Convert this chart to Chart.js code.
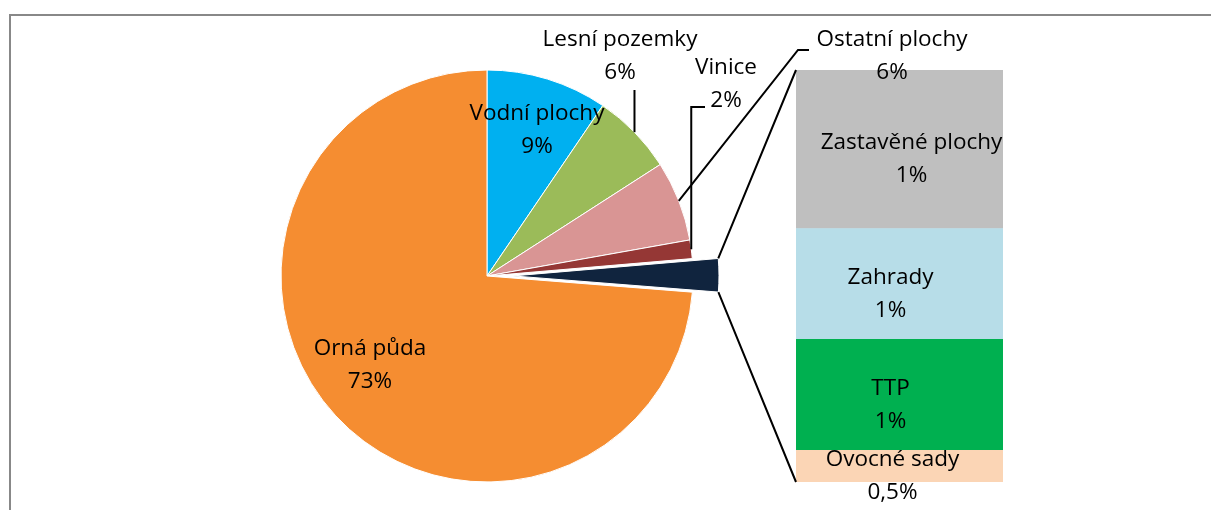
<!DOCTYPE html>
<html>
<head>
<meta charset="utf-8">
<script src="https://cdn.jsdelivr.net/npm/chart.js@4.4.1/dist/chart.umd.min.js"></script>
<style>
  html, body { margin: 0; padding: 0; background: #fff; overflow: hidden; }
  #wrap { position: relative; width: 1211px; height: 510px; overflow: hidden; }
  #frame { position: absolute; left: 9px; top: 14px; width: 1400px; height: 700px; border: 2px solid #888; }
  canvas { position: absolute; left: 0; top: 0; }
</style>
</head>
<body>
<div id="wrap">
  <div id="frame"></div>
  <canvas id="pie" width="1211" height="510"></canvas>
  <canvas id="bar" width="1211" height="510"></canvas>
</div>
<script>
// pie slices, clockwise from 12 o'clock (share of area, %)
const pieLabels = ['Vodní plochy', 'Lesní pozemky', 'Ostatní plochy', 'Vinice', 'Jiné', 'Orná půda'];
const pieValues = [9.5, 6.4, 6.3, 1.45, 2.6, 73.75];
const pieText   = ['9%', '6%', '6%', '2%', '', '73%'];
const pieColors = ['#00B0F0', '#9BBB59', '#D99594', '#953735', '#10243E', '#F58D31'];

// breakdown of the small slice, top to bottom
const barLabels = ['Zastavěné plochy', 'Zahrady', 'TTP', 'Ovocné sady'];
const barValues = [1.0, 0.7, 0.7, 0.2];
const barText   = ['1%', '1%', '1%', '0,5%'];
const barColors = ['#BFBFBF', '#B7DDE8', '#00B050', '#FBD5B5'];

const FONT = '22.5px "Open Sans", sans-serif';
const LINE_H = 33;
const EXPLODE = 26;
const SPLIT = 4; // index of the slice that is broken out into the bar

// where the label texts sit (centre of the two-line block) and leader elbows
const layout = {
    0: { text: [537, 130] },
    1: { text: [620, 56], elbow: 'up', top: 90 },
    2: { text: [892, 56], elbow: [[798, 50], [809, 50]] },
    3: { text: [726, 84], elbow: 'upright', top: 107, right: 705 },
    5: { text: [370, 365] }
};
// horizontal nudge of the bar labels from the bar centre, top to bottom
const barNudge = [12, -9, -9, -7];

function drawBlock(ctx, lines, cx, cy) {
    ctx.font = FONT;
    ctx.fillStyle = '#000';
    ctx.textAlign = 'center';
    ctx.textBaseline = 'middle';
    const start = cy - (lines.length - 1) * LINE_H / 2;
    lines.forEach((t, i) => ctx.fillText(t, cx, start + i * LINE_H));
}

function midPoint(arc, r) {
    const a = (arc.startAngle + arc.endAngle) / 2;
    return { x: arc.x + Math.cos(a) * r, y: arc.y + Math.sin(a) * r };
}

const explodePlugin = {
    id: 'explode',
    afterDatasetsUpdate(chart) {
        const arc = chart.getDatasetMeta(0).data[SPLIT];
        const a = (arc.startAngle + arc.endAngle) / 2;
        arc.x += Math.cos(a) * EXPLODE;
        arc.y += Math.sin(a) * EXPLODE;
    }
};

const pieChart = new Chart(document.getElementById('pie').getContext('2d'), {
    type: 'pie',
    data: {
        labels: pieLabels,
        datasets: [{
            data: pieValues,
            backgroundColor: pieColors,
            borderColor: '#fff',
            borderWidth: 1,
            radius: 206
        }]
    },
    options: {
        responsive: false,
        animation: false,
        events: [],
        layout: { padding: { left: 281, right: 518, top: 70, bottom: 28 } },
        plugins: { legend: { display: false }, tooltip: { enabled: false } }
    },
    plugins: [explodePlugin]
});

// labels, leader lines and the connectors between pie and bar
const overlayPlugin = {
    id: 'overlay',
    afterDraw(chart) {
        const ctx = chart.ctx;
        const arcs = pieChart.getDatasetMeta(0).data;
        ctx.save();
        ctx.strokeStyle = '#000';
        ctx.lineWidth = 2;

        // connectors from the exploded slice to the bar
        const s = arcs[SPLIT];
        const R = s.outerRadius;
        const topBar = chart.getDatasetMeta(barLabels.length - 1).data[0];
        const botBar = chart.getDatasetMeta(0).data[0];
        const left = topBar.x - topBar.width / 2;
        ctx.beginPath();
        ctx.moveTo(s.x + Math.cos(s.startAngle) * R, s.y + Math.sin(s.startAngle) * R);
        ctx.lineTo(left, topBar.y);
        ctx.moveTo(s.x + Math.cos(s.endAngle) * R, s.y + Math.sin(s.endAngle) * R);
        ctx.lineTo(left, botBar.base);
        ctx.stroke();

        // pie labels
        pieLabels.forEach((name, i) => {
            const l = layout[i];
            if (!l) return;
            if (l.elbow) {
                const p = midPoint(arcs[i], arcs[i].outerRadius);
                ctx.beginPath();
                ctx.moveTo(p.x, p.y);
                if (l.elbow === 'up') {
                    ctx.lineTo(p.x, l.top);
                } else if (l.elbow === 'upright') {
                    ctx.lineTo(p.x, l.top);
                    ctx.lineTo(l.right, l.top);
                } else {
                    l.elbow.forEach(([x, y]) => ctx.lineTo(x, y));
                }
                ctx.stroke();
            }
            drawBlock(ctx, [name, pieText[i]], l.text[0], l.text[1]);
        });

        // bar labels
        barLabels.forEach((name, k) => {
            const el = chart.getDatasetMeta(barLabels.length - 1 - k).data[0];
            drawBlock(ctx, [name, barText[k]], el.x + barNudge[k], (el.y + el.base) / 2 + 10);
        });
        ctx.restore();
    }
};

// stack bottom-up, so reverse the top-to-bottom lists
const barSets = barLabels.map((name, k) => ({
    label: name,
    data: [barValues[k]],
    backgroundColor: barColors[k],
    borderWidth: 0,
    barPercentage: 1,
    categoryPercentage: 1
})).reverse();

new Chart(document.getElementById('bar').getContext('2d'), {
    type: 'bar',
    data: { labels: [''], datasets: barSets },
    options: {
        responsive: false,
        animation: false,
        events: [],
        layout: { padding: { left: 796, right: 208, top: 70, bottom: 28 } },
        scales: {
            x: { stacked: true, display: false },
            y: { stacked: true, display: false, min: 0, max: barValues.reduce((a, b) => a + b, 0) }
        },
        plugins: { legend: { display: false }, tooltip: { enabled: false } }
    },
    plugins: [overlayPlugin]
});
</script>
</body>
</html>
